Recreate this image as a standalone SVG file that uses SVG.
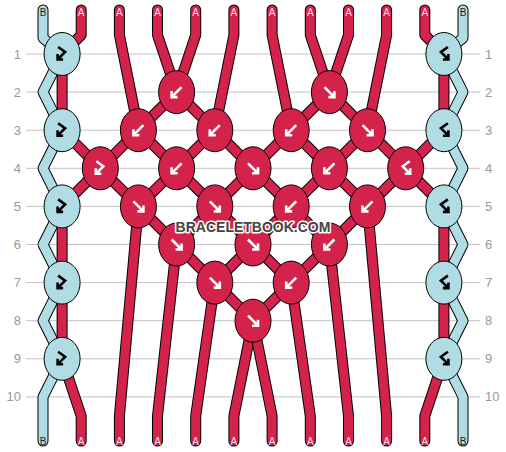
<svg xmlns="http://www.w3.org/2000/svg" width="506" height="452" viewBox="0 0 506 452">
<style>
.row{stroke:#c4c4c4;stroke-width:1}
.rl{font-family:"Liberation Sans",Arial,sans-serif;font-size:13px;fill:#999}
.o{fill:none;stroke:#000;stroke-width:11;stroke-linecap:round;stroke-linejoin:round}
.r{fill:none;stroke:#d3234b;stroke-width:9;stroke-linecap:round;stroke-linejoin:round}
.bl{fill:none;stroke:#b0dce4;stroke-width:9;stroke-linecap:round;stroke-linejoin:round}
.kr{fill:#d3234b;stroke:#000;stroke-width:1}
.kb{fill:#b0dce4;stroke:#000;stroke-width:1}
.gw{fill:none;stroke:#fff;stroke-width:2.6}
.gk{fill:none;stroke:#000;stroke-width:2.6}
.la{font-family:"Liberation Sans",Arial,sans-serif;font-size:10px;fill:#fde;text-anchor:middle}
.lb{font-family:"Liberation Sans",Arial,sans-serif;font-size:10px;fill:#222;text-anchor:middle}
.wm{font-family:"Liberation Sans",Arial,sans-serif;font-size:14px;font-weight:bold;fill:#444;stroke:#fff;stroke-width:3;paint-order:stroke;stroke-linejoin:round;text-anchor:middle}
</style>
<defs>
<path id="gb" d="M5,-5 L-4,4 M-5,-1 V5 H1"/>
<path id="gf" d="M-5,-5 L4,4 M5,-1 V5 H-1"/>
<path id="gfb" d="M-4,-7 L3,-2 L-4,5 M-4.5,0 V5.5 H1"/>
<path id="gbf" d="M4,-7 L-3,-2 L4,5 M4.5,0 V5.5 H-1"/>
</defs>
<g id="rows">
<line class="row" x1="26" y1="54" x2="480" y2="54"/>
<line class="row" x1="26" y1="92.1" x2="480" y2="92.1"/>
<line class="row" x1="26" y1="130.2" x2="480" y2="130.2"/>
<line class="row" x1="26" y1="168.3" x2="480" y2="168.3"/>
<line class="row" x1="26" y1="206.4" x2="480" y2="206.4"/>
<line class="row" x1="26" y1="244.5" x2="480" y2="244.5"/>
<line class="row" x1="26" y1="282.6" x2="480" y2="282.6"/>
<line class="row" x1="26" y1="320.7" x2="480" y2="320.7"/>
<line class="row" x1="26" y1="358.8" x2="480" y2="358.8"/>
<line class="row" x1="26" y1="396.9" x2="480" y2="396.9"/>
<g class="rl" text-anchor="end">
<text x="21" y="58.5">1</text><text x="21" y="96.6">2</text><text x="21" y="134.7">3</text><text x="21" y="172.8">4</text><text x="21" y="210.9">5</text><text x="21" y="249">6</text><text x="21" y="287.1">7</text><text x="21" y="325.2">8</text><text x="21" y="363.3">9</text><text x="21" y="401.4">10</text>
</g>
<g class="rl">
<text x="485" y="58.5">1</text><text x="485" y="96.6">2</text><text x="485" y="134.7">3</text><text x="485" y="172.8">4</text><text x="485" y="210.9">5</text><text x="485" y="249">6</text><text x="485" y="287.1">7</text><text x="485" y="325.2">8</text><text x="485" y="363.3">9</text><text x="485" y="401.4">10</text>
</g>
</g>
<g id="connectors">
<g id="s0"><path class="o" d="M43,10 V38 L62.1,54 L43,92.1 L62.1,130.2 L43,168.3 L62.1,206.4 L43,244.5 L62.1,282.6 L43,320.7 L62.1,358.8 L43,396.9 V441"/><path class="bl" d="M43,10 V38 L62.1,54 L43,92.1 L62.1,130.2 L43,168.3 L62.1,206.4 L43,244.5 L62.1,282.6 L43,320.7 L62.1,358.8 L43,396.9 V441"/></g>
<g id="s11"><path class="o" d="M463,10 V38 L443.9,54 L463,92.1 L443.9,130.2 L463,168.3 L443.9,206.4 L463,244.5 L443.9,282.6 L463,320.7 L443.9,358.8 L463,396.9 V441"/><path class="bl" d="M463,10 V38 L443.9,54 L463,92.1 L443.9,130.2 L463,168.3 L443.9,206.4 L463,244.5 L443.9,282.6 L463,320.7 L443.9,358.8 L463,396.9 V441"/></g>
<g id="s1"><path class="o" d="M81.2,10 V35 L62.1,54 L62.1,130.2 L100.3,168.3 L62.1,206.4 L62.1,358.8 L81.2,416 V441"/><path class="r" d="M81.2,10 V35 L62.1,54 L62.1,130.2 L100.3,168.3 L62.1,206.4 L62.1,358.8 L81.2,416 V441"/></g>
<g id="s2"><path class="o" d="M119.4,10 V35 L138.4,130.2 L100.3,168.3 L138.4,206.4 L119.4,416 V441"/><path class="r" d="M119.4,10 V35 L138.4,130.2 L100.3,168.3 L138.4,206.4 L119.4,416 V441"/></g>
<g id="s3"><path class="o" d="M157.5,10 V35 L176.6,92.1 L138.4,130.2 L176.6,168.3 L138.4,206.4 L176.6,244.5 L157.5,416 V441"/><path class="r" d="M157.5,10 V35 L176.6,92.1 L138.4,130.2 L176.6,168.3 L138.4,206.4 L176.6,244.5 L157.5,416 V441"/></g>
<g id="s4"><path class="o" d="M195.7,10 V35 L176.6,92.1 L214.8,130.2 L176.6,168.3 L214.8,206.4 L176.6,244.5 L214.8,282.6 L195.7,416 V441"/><path class="r" d="M195.7,10 V35 L176.6,92.1 L214.8,130.2 L176.6,168.3 L214.8,206.4 L176.6,244.5 L214.8,282.6 L195.7,416 V441"/></g>
<g id="s5"><path class="o" d="M233.9,10 V35 L214.8,130.2 L253,168.3 L214.8,206.4 L253,244.5 L214.8,282.6 L253,320.7 L233.9,416 V441"/><path class="r" d="M233.9,10 V35 L214.8,130.2 L253,168.3 L214.8,206.4 L253,244.5 L214.8,282.6 L253,320.7 L233.9,416 V441"/></g>
<g id="s6"><path class="o" d="M272.1,10 V35 L291.2,130.2 L253,168.3 L291.2,206.4 L253,244.5 L291.2,282.6 L253,320.7 L272.1,416 V441"/><path class="r" d="M272.1,10 V35 L291.2,130.2 L253,168.3 L291.2,206.4 L253,244.5 L291.2,282.6 L253,320.7 L272.1,416 V441"/></g>
<g id="s7"><path class="o" d="M310.3,10 V35 L329.4,92.1 L291.2,130.2 L329.4,168.3 L291.2,206.4 L329.4,244.5 L291.2,282.6 L310.3,416 V441"/><path class="r" d="M310.3,10 V35 L329.4,92.1 L291.2,130.2 L329.4,168.3 L291.2,206.4 L329.4,244.5 L291.2,282.6 L310.3,416 V441"/></g>
<g id="s8"><path class="o" d="M348.5,10 V35 L329.4,92.1 L367.5,130.2 L329.4,168.3 L367.5,206.4 L329.4,244.5 L348.5,416 V441"/><path class="r" d="M348.5,10 V35 L329.4,92.1 L367.5,130.2 L329.4,168.3 L367.5,206.4 L329.4,244.5 L348.5,416 V441"/></g>
<g id="s9"><path class="o" d="M386.6,10 V35 L367.5,130.2 L405.7,168.3 L367.5,206.4 L386.6,416 V441"/><path class="r" d="M386.6,10 V35 L367.5,130.2 L405.7,168.3 L367.5,206.4 L386.6,416 V441"/></g>
<g id="s10"><path class="o" d="M424.8,10 V35 L443.9,54 L443.9,130.2 L405.7,168.3 L443.9,206.4 L443.9,358.8 L424.8,416 V441"/><path class="r" d="M424.8,10 V35 L443.9,54 L443.9,130.2 L405.7,168.3 L443.9,206.4 L443.9,358.8 L424.8,416 V441"/></g>
</g>
<g id="labels">
<text class="lb" x="43" y="16">B</text><text class="la" x="81.2" y="16">A</text><text class="la" x="119.4" y="16">A</text><text class="la" x="157.5" y="16">A</text><text class="la" x="195.7" y="16">A</text><text class="la" x="233.9" y="16">A</text><text class="la" x="272.1" y="16">A</text><text class="la" x="310.3" y="16">A</text><text class="la" x="348.5" y="16">A</text><text class="la" x="386.6" y="16">A</text><text class="la" x="424.8" y="16">A</text><text class="lb" x="463" y="16">B</text>
<text class="lb" x="43" y="445">B</text><text class="la" x="81.2" y="445">A</text><text class="la" x="119.4" y="445">A</text><text class="la" x="157.5" y="445">A</text><text class="la" x="195.7" y="445">A</text><text class="la" x="233.9" y="445">A</text><text class="la" x="272.1" y="445">A</text><text class="la" x="310.3" y="445">A</text><text class="la" x="348.5" y="445">A</text><text class="la" x="386.6" y="445">A</text><text class="la" x="424.8" y="445">A</text><text class="lb" x="463" y="445">B</text>
</g>
<g id="knots">
<g id="k1L"><ellipse class="kb" cx="62.1" cy="54" rx="18" ry="21.5"/><use href="#gfb" class="gk" x="62.1" y="54"/></g>
<g id="k1R"><ellipse class="kb" cx="443.9" cy="54" rx="18" ry="21.5"/><use href="#gbf" class="gk" x="443.9" y="54"/></g>
<g id="k2a"><ellipse class="kr" cx="176.6" cy="92.1" rx="18" ry="21.5"/><use href="#gb" class="gw" x="176.6" y="92.1"/></g>
<g id="k2b"><ellipse class="kr" cx="329.4" cy="92.1" rx="18" ry="21.5"/><use href="#gf" class="gw" x="329.4" y="92.1"/></g>
<g id="k3L"><ellipse class="kb" cx="62.1" cy="130.2" rx="18" ry="21.5"/><use href="#gfb" class="gk" x="62.1" y="130.2"/></g>
<g id="k3a"><ellipse class="kr" cx="138.4" cy="130.2" rx="18" ry="21.5"/><use href="#gb" class="gw" x="138.4" y="130.2"/></g>
<g id="k3b"><ellipse class="kr" cx="214.8" cy="130.2" rx="18" ry="21.5"/><use href="#gb" class="gw" x="214.8" y="130.2"/></g>
<g id="k3c"><ellipse class="kr" cx="291.2" cy="130.2" rx="18" ry="21.5"/><use href="#gb" class="gw" x="291.2" y="130.2"/></g>
<g id="k3d"><ellipse class="kr" cx="367.5" cy="130.2" rx="18" ry="21.5"/><use href="#gf" class="gw" x="367.5" y="130.2"/></g>
<g id="k3R"><ellipse class="kb" cx="443.9" cy="130.2" rx="18" ry="21.5"/><use href="#gbf" class="gk" x="443.9" y="130.2"/></g>
<g id="k4a"><ellipse class="kr" cx="100.3" cy="168.3" rx="18" ry="21.5"/><use href="#gfb" class="gw" x="100.3" y="168.3"/></g>
<g id="k4b"><ellipse class="kr" cx="176.6" cy="168.3" rx="18" ry="21.5"/><use href="#gb" class="gw" x="176.6" y="168.3"/></g>
<g id="k4c"><ellipse class="kr" cx="253" cy="168.3" rx="18" ry="21.5"/><use href="#gf" class="gw" x="253" y="168.3"/></g>
<g id="k4d"><ellipse class="kr" cx="329.4" cy="168.3" rx="18" ry="21.5"/><use href="#gb" class="gw" x="329.4" y="168.3"/></g>
<g id="k4e"><ellipse class="kr" cx="405.7" cy="168.3" rx="18" ry="21.5"/><use href="#gbf" class="gw" x="405.7" y="168.3"/></g>
<g id="k5L"><ellipse class="kb" cx="62.1" cy="206.4" rx="18" ry="21.5"/><use href="#gfb" class="gk" x="62.1" y="206.4"/></g>
<g id="k5a"><ellipse class="kr" cx="138.4" cy="206.4" rx="18" ry="21.5"/><use href="#gf" class="gw" x="138.4" y="206.4"/></g>
<g id="k5b"><ellipse class="kr" cx="214.8" cy="206.4" rx="18" ry="21.5"/><use href="#gf" class="gw" x="214.8" y="206.4"/></g>
<g id="k5c"><ellipse class="kr" cx="291.2" cy="206.4" rx="18" ry="21.5"/><use href="#gb" class="gw" x="291.2" y="206.4"/></g>
<g id="k5d"><ellipse class="kr" cx="367.5" cy="206.4" rx="18" ry="21.5"/><use href="#gb" class="gw" x="367.5" y="206.4"/></g>
<g id="k5R"><ellipse class="kb" cx="443.9" cy="206.4" rx="18" ry="21.5"/><use href="#gbf" class="gk" x="443.9" y="206.4"/></g>
<g id="k6a"><ellipse class="kr" cx="176.6" cy="244.5" rx="18" ry="21.5"/><use href="#gf" class="gw" x="176.6" y="244.5"/></g>
<g id="k6b"><ellipse class="kr" cx="253" cy="244.5" rx="18" ry="21.5"/><use href="#gf" class="gw" x="253" y="244.5"/></g>
<g id="k6c"><ellipse class="kr" cx="329.4" cy="244.5" rx="18" ry="21.5"/><use href="#gb" class="gw" x="329.4" y="244.5"/></g>
<g id="k7L"><ellipse class="kb" cx="62.1" cy="282.6" rx="18" ry="21.5"/><use href="#gfb" class="gk" x="62.1" y="282.6"/></g>
<g id="k7a"><ellipse class="kr" cx="214.8" cy="282.6" rx="18" ry="21.5"/><use href="#gf" class="gw" x="214.8" y="282.6"/></g>
<g id="k7b"><ellipse class="kr" cx="291.2" cy="282.6" rx="18" ry="21.5"/><use href="#gb" class="gw" x="291.2" y="282.6"/></g>
<g id="k7R"><ellipse class="kb" cx="443.9" cy="282.6" rx="18" ry="21.5"/><use href="#gbf" class="gk" x="443.9" y="282.6"/></g>
<g id="k8a"><ellipse class="kr" cx="253" cy="320.7" rx="18" ry="21.5"/><use href="#gf" class="gw" x="253" y="320.7"/></g>
<g id="k9L"><ellipse class="kb" cx="62.1" cy="358.8" rx="18" ry="21.5"/><use href="#gfb" class="gk" x="62.1" y="358.8"/></g>
<g id="k9R"><ellipse class="kb" cx="443.9" cy="358.8" rx="18" ry="21.5"/><use href="#gbf" class="gk" x="443.9" y="358.8"/></g>
</g>
<text class="wm" x="253" y="232">BRACELETBOOK.COM</text>
</svg>
